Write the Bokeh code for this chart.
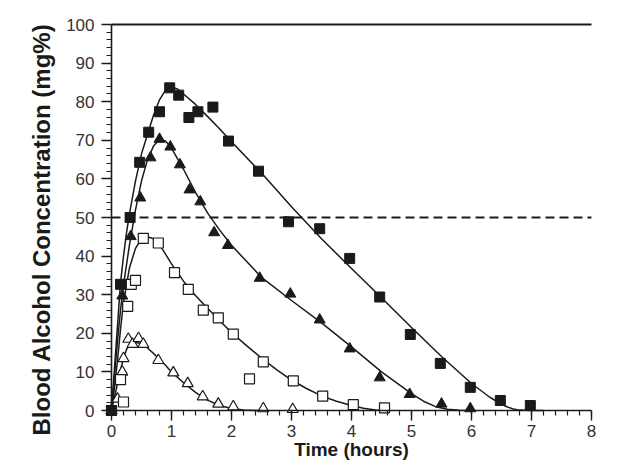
import math
from bokeh.plotting import figure
from bokeh.models import Range1d, LinearAxis, SingleIntervalTicker, Label
from bokeh.embed import file_html
from bokeh.resources import INLINE

# ---------------- data ----------------
# filled squares
fsq_t = [0, 0.15, 0.31, 0.47, 0.62, 0.8, 0.97, 1.12, 1.29, 1.44, 1.69, 1.95, 2.45, 2.95,
         3.47, 3.97, 4.47, 4.98, 5.48, 5.98, 6.48, 6.98]
fsq_v = [0, 32.7, 50, 64.3, 72.1, 77.4, 83.6, 81.7, 75.9, 77.4, 78.6, 69.8, 62, 48.9,
         47.1, 39.4, 29.4, 19.7, 12.2, 6, 2.6, 1.3]
# filled triangles
ftr_t = [0, 0.18, 0.32, 0.48, 0.65, 0.8, 0.98, 1.14, 1.3, 1.48, 1.71, 1.94, 2.47, 2.98,
         3.47, 3.97, 4.47, 4.97, 5.5, 5.98]
ftr_v = [0, 29.7, 45.1, 55.1, 65.5, 70.3, 68.3, 63.7, 57.2, 54.1, 46.1, 42.8, 34.3, 30.2,
         23.5, 16, 8.5, 4.2, 1.7, 0.5]
# open squares
osq_t = [0, 0.2, 0.15, 0.27, 0.33, 0.4, 0.53, 0.78, 1.05, 1.28, 1.53, 1.78, 2.03, 2.3,
         2.53, 3.03, 3.52, 4.03, 4.55]
osq_v = [0, 2.2, 8, 27, 32.7, 33.7, 44.6, 43.4, 35.7, 31.4, 26, 24, 19.8, 8.2,
         12.6, 7.7, 3.7, 1.5, 0.7]
# open triangles
otr_t = [0, 0.1, 0.18, 0.2, 0.28, 0.35, 0.45, 0.53, 0.78, 1.03, 1.27, 1.52, 1.78, 2.03,
         2.53, 3.02]
otr_v = [0, 3, 10, 13.5, 18.5, 17.2, 18.7, 17.2, 13, 9.8, 7, 3.6, 1.7, 1,
         0.5, 0.3]

# fitted curves
fit_a_t = [0, 0.05, 0.1, 0.15, 0.2, 0.25, 0.3, 0.4, 0.5, 0.6, 0.7, 0.8, 0.9, 1.0, 1.1,
           1.2, 1.4, 1.6, 1.8, 2.0, 2.5, 3.0, 3.5, 4.0, 4.5, 5.0, 5.5, 6.0, 6.3, 6.5,
           6.6, 6.7, 6.8, 7.0, 7.2]
fit_a_v = [0, 11, 22, 33, 40, 46, 51, 59.5, 66.5, 71.5, 76.5, 80.5, 83, 83.8, 83.3,
           82, 79.3, 76.2, 73, 69.6, 61.5, 52.8, 44.5, 36.8, 29.2, 21.5, 14, 7, 3.5, 1.6,
           0.9, 0.4, 0.1, 0, 0]
fit_b_t = [0, 0.05, 0.1, 0.15, 0.2, 0.3, 0.4, 0.5, 0.6, 0.7, 0.8, 0.9, 1.0, 1.2, 1.4,
           1.6, 1.8, 2.0, 2.5, 3.0, 3.5, 4.0, 4.5, 5.0, 5.2, 5.4, 5.6, 5.8, 6.0]
fit_b_v = [0, 9, 18, 26, 32.5, 43, 52, 59.5, 65, 68.5, 70.2, 69.8, 68, 62.5, 56.5,
           51.2, 46.8, 42.8, 34.5, 28.5, 22.7, 16.5, 10, 4.4, 2.4, 1.0, 0.3, 0.05, 0]
fit_c_t = [0, 0.05, 0.1, 0.15, 0.2, 0.3, 0.4, 0.5, 0.6, 0.7, 0.8, 0.9, 1.0, 1.2, 1.4,
           1.6, 1.8, 2.0, 2.25, 2.5, 2.75, 3.0, 3.25, 3.5, 3.75, 4.0, 4.2, 4.4, 4.6]
fit_c_v = [0, 6, 13, 21, 28, 37, 42, 44.5, 45, 44.5, 43, 40.5, 38, 33.5, 29.8,
           26.5, 23.3, 20.2, 16.8, 13.6, 10.6, 7.9, 5.7, 3.8, 2.4, 1.3, 0.6, 0.15, 0]
fit_d_t = [0, 0.05, 0.1, 0.15, 0.2, 0.25, 0.3, 0.4, 0.5, 0.6, 0.7, 0.8, 0.9, 1.0, 1.2,
           1.4, 1.6, 1.8, 2.0, 2.2, 2.4, 2.6]
fit_d_v = [0, 3.5, 7, 10.5, 13.5, 15.8, 17, 17.7, 17.3, 16.2, 14.8, 13.3, 11.7, 10, 7.2,
           4.7, 2.7, 1.3, 0.5, 0.15, 0.03, 0]

limit_level = 50          # dashed reference line
x_lo, x_hi = 0, 8
y_lo, y_hi = 0, 100
y_title = "Blood Alcohol Concentration (mg%)"
x_title = "Time (hours)"

# ---------------- figure ----------------
INK = "#1a1a1a"
FONT = "Liberation Sans"
W, H = 632, 462

# frame covers the whole canvas; axes are pinned at x=0 / y=0 inside it
p = figure(width=W, height=H, output_backend="svg", toolbar_location=None,
           x_range=Range1d(-1.85, 8.6833), y_range=Range1d(-13.47, 106.22),
           x_axis_type=None, y_axis_type=None,
           min_border_left=0, min_border_right=0, min_border_top=0, min_border_bottom=0)
p.outline_line_color = None
p.background_fill_color = "white"
p.border_fill_color = "white"
p.xgrid.visible = False
p.ygrid.visible = False

xaxis = LinearAxis(ticker=SingleIntervalTicker(interval=1, num_minor_ticks=5),
                   fixed_location=0, bounds=(x_lo, x_hi))
yaxis = LinearAxis(ticker=SingleIntervalTicker(interval=10, num_minor_ticks=5),
                   fixed_location=0, bounds=(y_lo, y_hi))
for ax in (xaxis, yaxis):
    ax.axis_line_color = INK
    ax.axis_line_width = 1.6
    ax.major_tick_line_color = INK
    ax.major_tick_line_width = 1.4
    ax.minor_tick_line_color = INK
    ax.minor_tick_line_width = 1.2
    ax.major_tick_in = 0
    ax.major_tick_out = 10
    ax.minor_tick_in = 0
    ax.minor_tick_out = 5
    ax.major_label_text_font = FONT
    ax.major_label_text_font_size = "17px"
    ax.major_label_text_color = "#333333"
xaxis.major_label_standoff = 4
yaxis.major_label_standoff = 7
p.add_layout(xaxis, "below")
p.add_layout(yaxis, "left")

# top frame line and dashed limit line
p.line(x=[x_lo, x_hi], y=[y_hi, y_hi], line_color=INK, line_width=2.2)
p.line(x=[x_lo, x_hi], y=[limit_level, limit_level], line_color=INK, line_width=1.8,
       line_dash="9 5")

# fitted curves
for tt, vv in ((fit_a_t, fit_a_v), (fit_b_t, fit_b_v), (fit_c_t, fit_c_v), (fit_d_t, fit_d_v)):
    p.line(x=tt, y=vv, line_color=INK, line_width=1.5)

# markers
p.scatter(x=otr_t, y=otr_v, marker="triangle", size=11, fill_color="white",
          line_color=INK, line_width=1.2)
p.scatter(x=osq_t, y=osq_v, marker="square", size=10, fill_color="white",
          line_color=INK, line_width=1.2)
p.scatter(x=ftr_t, y=ftr_v, marker="triangle", size=11, fill_color=INK,
          line_color=INK, line_width=1)
p.scatter(x=fsq_t, y=fsq_v, marker="square", size=10, fill_color=INK,
          line_color=INK, line_width=1)

# axis titles
p.add_layout(Label(x=-1.1667, y=46.9, text=y_title, angle=math.pi / 2,
                   text_align="center", text_baseline="middle",
                   text_font=FONT, text_font_size="24px", text_font_style="bold",
                   text_color=INK))
p.add_layout(Label(x=4.0, y=-10.1, text=x_title,
                   text_align="center", text_baseline="middle",
                   text_font=FONT, text_font_size="19px", text_font_style="bold",
                   text_color=INK))

open("out.html", "w").write(file_html(p, INLINE))
